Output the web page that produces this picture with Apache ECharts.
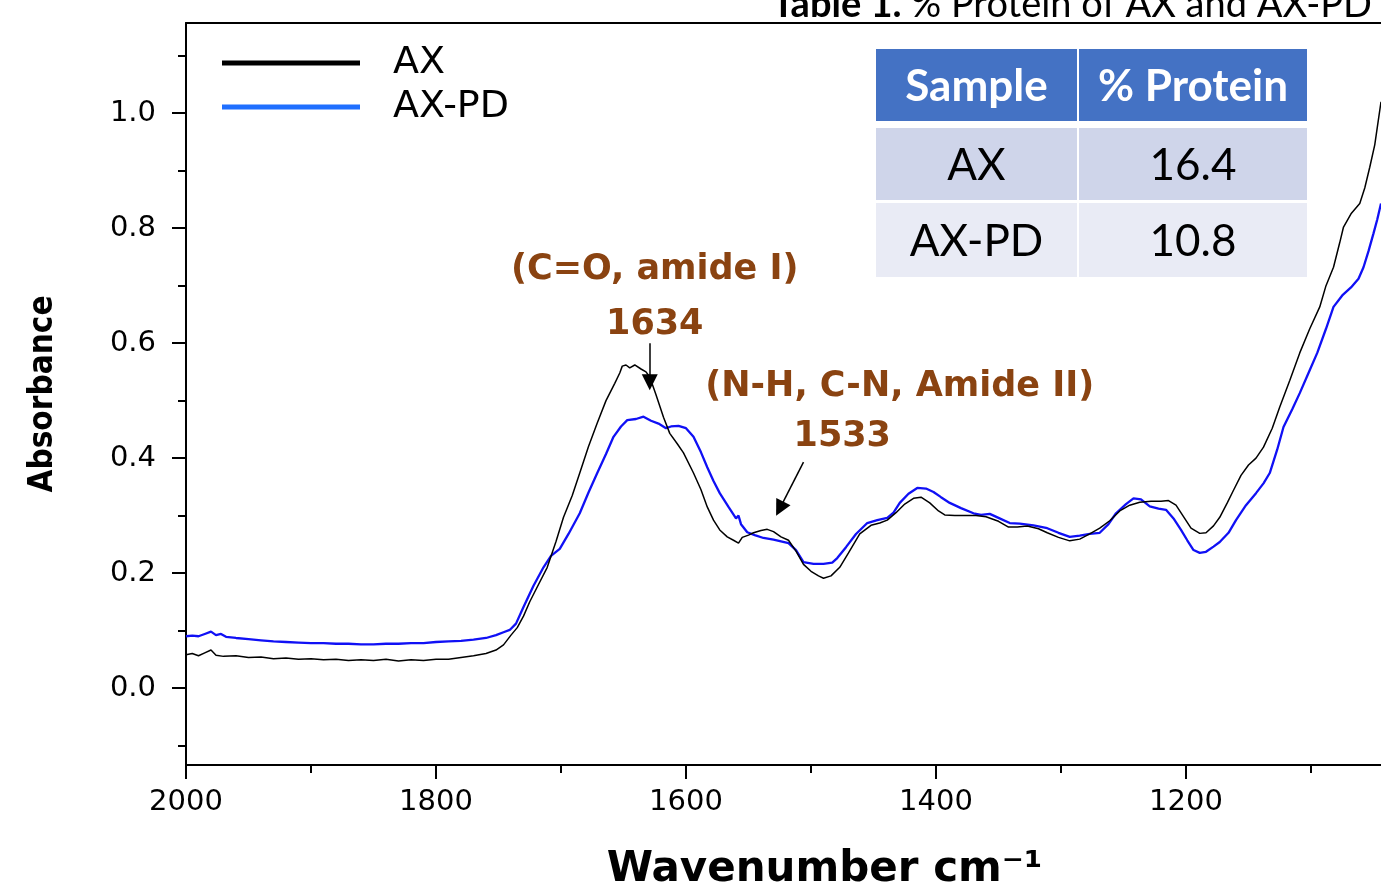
<!DOCTYPE html>
<html>
<head>
<meta charset="utf-8">
<script src="https://cdn.jsdelivr.net/npm/echarts@6/dist/echarts.min.js"></script>
<style>
html, body { margin: 0; padding: 0; background: #fff; }
#ftir { width: 1381px; height: 882px; }
</style>
</head>
<body>
<div id="ftir"></div>
<script>
// AX spectrum (wavenumber, absorbance)
var axWave = [2000,1995,1990,1985,1980,1976,1970,1960,1950,1940,1930,1920,1910,1900,1890,1880,1870,1860,1850,1840,1830,1820,1810,1800,1790,1780,1770,1760,1752,1746,1740,1735,1730,1725,1718,1711,1704,1698,1691,1685,1678,1671,1664,1657,1653,1651,1648,1645,1641,1636,1632,1629,1624,1618,1613,1607,1602,1594,1588,1583,1578,1573,1567,1562,1558,1555,1550,1546,1540,1535,1530,1524,1518,1512,1506,1500,1494,1490,1484,1477,1470,1461,1452,1445,1439,1432,1425,1418,1412,1405,1398,1393,1385,1376,1368,1360,1350,1342,1335,1327,1318,1311,1302,1293,1285,1277,1269,1261,1253,1245,1237,1228,1220,1214,1208,1202,1196,1189,1184,1178,1173,1167,1162,1156,1150,1144,1138,1131,1125,1117,1109,1101,1093,1088,1082,1077,1074,1068,1061,1057,1053,1049,1047,1044];
var axAbs = [0.058,0.060,0.056,0.061,0.066,0.057,0.055,0.056,0.053,0.054,0.051,0.052,0.050,0.051,0.049,0.050,0.048,0.049,0.048,0.050,0.047,0.049,0.048,0.050,0.050,0.053,0.056,0.060,0.066,0.075,0.092,0.105,0.125,0.150,0.180,0.210,0.255,0.297,0.335,0.374,0.420,0.461,0.500,0.530,0.548,0.560,0.562,0.557,0.562,0.555,0.550,0.541,0.510,0.471,0.443,0.425,0.409,0.374,0.345,0.315,0.292,0.275,0.263,0.257,0.252,0.262,0.266,0.270,0.274,0.276,0.272,0.263,0.257,0.238,0.215,0.203,0.195,0.191,0.195,0.210,0.235,0.268,0.283,0.287,0.292,0.305,0.320,0.330,0.332,0.322,0.308,0.301,0.300,0.300,0.300,0.298,0.290,0.280,0.280,0.282,0.277,0.270,0.262,0.256,0.259,0.268,0.278,0.291,0.308,0.318,0.323,0.325,0.325,0.326,0.318,0.298,0.278,0.269,0.270,0.282,0.297,0.322,0.344,0.370,0.388,0.400,0.419,0.452,0.489,0.535,0.583,0.625,0.663,0.700,0.732,0.775,0.802,0.825,0.843,0.870,0.906,0.945,0.975,1.020];

// AX-PD spectrum (wavenumber, absorbance)
var pdWave = [2000,1995,1990,1985,1980,1976,1972,1968,1960,1950,1940,1930,1920,1910,1900,1890,1880,1870,1860,1850,1840,1830,1820,1810,1800,1790,1780,1770,1760,1752,1746,1741,1736,1730,1722,1714,1708,1701,1694,1685,1678,1671,1664,1658,1652,1647,1640,1634,1628,1622,1616,1612,1606,1600,1594,1588,1583,1578,1573,1566,1560,1558,1556,1551,1545,1538,1530,1524,1518,1512,1506,1498,1490,1483,1479,1472,1464,1455,1447,1439,1434,1429,1422,1415,1408,1402,1396,1389,1380,1370,1364,1357,1350,1341,1333,1322,1311,1302,1293,1285,1277,1269,1262,1256,1248,1242,1236,1229,1222,1216,1210,1204,1199,1194,1189,1184,1178,1173,1166,1160,1152,1144,1138,1133,1127,1122,1115,1109,1102,1095,1088,1082,1075,1068,1062,1058,1054,1050,1047,1044];
var pdAbs = [0.090,0.091,0.090,0.094,0.098,0.092,0.094,0.089,0.087,0.085,0.083,0.081,0.080,0.079,0.078,0.078,0.077,0.077,0.076,0.076,0.077,0.077,0.078,0.078,0.080,0.081,0.082,0.084,0.087,0.092,0.097,0.101,0.112,0.141,0.178,0.210,0.230,0.242,0.268,0.304,0.340,0.374,0.407,0.437,0.455,0.466,0.468,0.472,0.465,0.460,0.452,0.455,0.456,0.452,0.437,0.410,0.384,0.360,0.339,0.315,0.295,0.300,0.285,0.271,0.266,0.261,0.258,0.255,0.252,0.240,0.219,0.216,0.216,0.218,0.226,0.245,0.268,0.287,0.292,0.296,0.305,0.322,0.338,0.348,0.347,0.341,0.332,0.322,0.313,0.304,0.301,0.303,0.296,0.287,0.286,0.283,0.278,0.270,0.263,0.265,0.268,0.270,0.285,0.304,0.320,0.330,0.328,0.316,0.312,0.310,0.295,0.275,0.257,0.240,0.235,0.237,0.246,0.254,0.270,0.292,0.318,0.339,0.356,0.374,0.415,0.454,0.485,0.513,0.548,0.583,0.625,0.663,0.683,0.697,0.712,0.732,0.760,0.791,0.815,0.843];

// axis ticks
var xMajorTicks = [2000, 1800, 1600, 1400, 1200];
var xMinorTicks = [1900, 1700, 1500, 1300, 1100];
var yMajorTicks = [0, 0.2, 0.4, 0.6, 0.8, 1.0];
var yMinorTicks = [-0.1, 0.1, 0.3, 0.5, 0.7, 0.9, 1.1];

// Table 1
var tableHeader = ['Sample', '% Protein'];
var samples = ['AX', 'AX-PD'];
var proteinPct = [16.4, 10.8];

// peak annotations (data coordinates)
var noteText = ['(C=O, amide I)', '1634', '(N-H, C-N, Amide II)', '1533'];
var noteAt = [[1625, 0.727], [1625, 0.632], [1429, 0.523], [1475, 0.437]];
var arrowFrom = [[1629, 0.600], [1506, 0.393]];
var arrowTo = [[1629, 0.532], [1525, 0.312]];

var brown = '#8a4311';

function pairs(xs, ys) {
    return xs.map(function (x, i) { return [x, ys[i]]; });
}

// table cells -> graphic
var colX = [876, 1079], colW = [201, 228];
var rowY = [49, 128, 203], rowH = [72, 72, 74];
var rowFill = ['#4472c4', '#cfd5ea', '#e9ebf5'];
var cells = [tableHeader].concat(samples.map(function (s, i) {
    return [s, proteinPct[i].toFixed(1)];
}));
var tableGraphic = [];
cells.forEach(function (row, r) {
    row.forEach(function (txt, c) {
        tableGraphic.push({
            type: 'rect',
            shape: { x: colX[c], y: rowY[r], width: colW[c], height: rowH[r] },
            style: { fill: rowFill[r] },
            silent: true
        });
        tableGraphic.push({
            type: 'text',
            x: colX[c] + colW[c] / 2,
            y: rowY[r] + rowH[r] / 2 + 2,
            style: {
                text: txt,
                fill: r === 0 ? '#fff' : '#000',
                font: (r === 0 ? 'bold ' : '') + '44px Lato',
                align: 'center',
                verticalAlign: 'middle'
            },
            silent: true
        });
    });
});
// clipped caption above the plot
tableGraphic.push({
    type: 'text',
    x: 772,
    y: 5,
    style: {
        text: '{b|Table 1. }{n|% Protein of AX and AX-PD}',
        verticalAlign: 'middle',
        rich: {
            b: { font: 'bold 38px Lato', fill: '#000' },
            n: { font: '38px Lato', fill: '#000' }
        }
    },
    silent: true
});

var myChart = echarts.init(document.getElementById('ftir'));
var option = {
    animation: false,
    backgroundColor: '#fff',
    grid: { left: 186, right: 0, top: 23, bottom: 117, outerBoundsMode: 'none', containLabel: false },
    legend: {
        left: 217,
        top: 38,
        orient: 'vertical',
        itemGap: 4,
        itemWidth: 138,
        itemHeight: 5,
        icon: 'rect',
        textStyle: {
            fontFamily: 'DejaVu Sans',
            fontSize: 38,
            color: '#000',
            lineHeight: 40,
            padding: [0, 0, 0, 28]
        },
        data: [
            { name: 'AX', itemStyle: { color: '#000' } },
            { name: 'AX-PD', itemStyle: { color: '#1f6fff' } }
        ]
    },
    xAxis: [
        {
            type: 'value',
            min: 1044,
            max: 2000,
            inverse: true,
            position: 'bottom',
            splitLine: { show: false },
            axisLine: { onZero: false, lineStyle: { color: '#000', width: 2 } },
            axisTick: { customValues: xMajorTicks, length: 14, lineStyle: { color: '#000', width: 2 } },
            axisLabel: {
                customValues: xMajorTicks,
                margin: 23,
                fontFamily: 'DejaVu Sans',
                fontSize: 29,
                color: '#000',
                formatter: function (v) { return String(v); }
            },
            name: 'Wavenumber cm\u207B\u00B9',
            nameLocation: 'middle',
            nameGap: 84,
            nameTextStyle: {
                fontFamily: 'DejaVu Sans',
                fontWeight: 'bold',
                fontSize: 42,
                color: '#000',
                padding: [0, 0, 0, 82]
            }
        },
        {
            // minor ticks
            type: 'value',
            min: 1044,
            max: 2000,
            inverse: true,
            position: 'bottom',
            splitLine: { show: false },
            axisLine: { show: false, onZero: false },
            axisTick: { customValues: xMinorTicks, length: 8, lineStyle: { color: '#000', width: 2 } },
            axisLabel: { show: false }
        },
        {
            // top frame line
            type: 'value',
            min: 1044,
            max: 2000,
            inverse: true,
            position: 'top',
            splitLine: { show: false },
            axisLine: { onZero: false, lineStyle: { color: '#000', width: 2 } },
            axisTick: { show: false },
            axisLabel: { show: false }
        }
    ],
    yAxis: [
        {
            type: 'value',
            min: -0.134,
            max: 1.157,
            position: 'left',
            splitLine: { show: false },
            axisLine: { show: true, onZero: false, lineStyle: { color: '#000', width: 2 } },
            axisTick: { show: true, customValues: yMajorTicks, length: 14, lineStyle: { color: '#000', width: 2 } },
            axisLabel: {
                customValues: yMajorTicks,
                margin: 30,
                fontFamily: 'DejaVu Sans',
                fontSize: 29,
                color: '#000',
                formatter: function (v) { return v.toFixed(1); }
            },
            name: 'Absorbance',
            nameLocation: 'middle',
            nameRotate: 90,
            nameGap: 126,
            nameTextStyle: {
                fontFamily: '"DejaVu Sans Condensed", "Liberation Sans", sans-serif',
                fontWeight: 'bold',
                fontSize: 33,
                color: '#000'
            }
        },
        {
            // minor ticks
            type: 'value',
            min: -0.134,
            max: 1.157,
            position: 'left',
            splitLine: { show: false },
            axisLine: { show: false, onZero: false },
            axisTick: { show: true, customValues: yMinorTicks, length: 8, lineStyle: { color: '#000', width: 2 } },
            axisLabel: { show: false }
        }
    ],
    series: [
        {
            name: 'AX',
            type: 'line',
            xAxisIndex: 0,
            yAxisIndex: 0,
            symbol: 'none',
            color: '#000',
            lineStyle: { color: '#000', width: 1.5 },
            data: pairs(axWave, axAbs),
            z: 3,
            markLine: {
                silent: true,
                symbol: ['none', 'triangle'],
                symbolSize: 16,
                label: { show: false },
                lineStyle: { color: '#000', width: 1.5, type: 'solid' },
                emphasis: { disabled: true },
                data: arrowFrom.map(function (p, i) {
                    return [{ coord: p }, { coord: arrowTo[i] }];
                })
            }
        },
        {
            name: 'AX-PD',
            type: 'line',
            xAxisIndex: 0,
            yAxisIndex: 0,
            symbol: 'none',
            color: '#1a1aff',
            lineStyle: { color: '#1010f5', width: 2.3 },
            data: pairs(pdWave, pdAbs),
            z: 2
        }
    ],
    graphic: tableGraphic
};
if (option && typeof option === "object") {
    myChart.setOption(option, true);
}

// peak labels placed through the axes
var notes = noteText.map(function (txt, i) {
    var p = myChart.convertToPixel({ xAxisIndex: 0, yAxisIndex: 0 }, noteAt[i]);
    return {
        type: 'text',
        x: p[0],
        y: p[1],
        style: {
            text: txt,
            font: 'bold 35px "DejaVu Sans"',
            fill: brown,
            align: 'center',
            verticalAlign: 'middle'
        },
        silent: true
    };
});
myChart.setOption({ graphic: tableGraphic.concat(notes) });
</script>
</body>
</html>
